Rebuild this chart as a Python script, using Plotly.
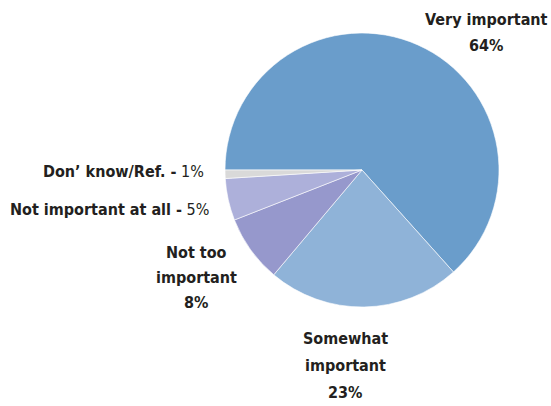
import plotly.graph_objects as go

W, H = 551, 406

categories = ["Very important", "Somewhat important", "Not too important",
              "Not important at all", "Don\u2019 know/Ref."]
values = [64, 23, 8, 5, 1]
colors = ["#6a9dcb", "#8fb3d8", "#9698cc", "#adb0da", "#d9d9d9"]

# pie center and radius in pixels
cx, cy, r = 362, 170, 137

fig = go.Figure(go.Pie(
    labels=categories,
    values=values,
    sort=False,
    direction="clockwise",
    rotation=270,
    marker=dict(colors=colors, line=dict(color="white", width=0.6)),
    textinfo="none",
    hoverinfo="label+percent",
    showlegend=False,
    domain=dict(x=[(cx - r) / W, (cx + r) / W],
                y=[1 - (cy + r) / H, 1 - (cy - r) / H]),
))

FONT = dict(family="DejaVu Sans Condensed, Liberation Sans Narrow, sans-serif",
            size=16, color="#231f20")


def px(x, y):
    return x / W, 1 - y / H


v = dict(zip(categories, values))
# (lines, anchor x, line center ys, xanchor)
labels = [
    (["<b>Very important</b>", f"<b>{v['Very important']}%</b>"],
     486, [19, 46], "center"),
    (["<b>Somewhat</b>", "<b>important</b>", f"<b>{v['Somewhat important']}%</b>"],
     345, [338, 365, 392], "center"),
    (["<b>Not too</b>", "<b>important</b>", f"<b>{v['Not too important']}%</b>"],
     196, [253, 277, 302], "center"),
    ([f"<b>Not important at all -</b> {v['Not important at all']}%"],
     211, [209], "right"),
    ([f"<b>Don\u2019 know/Ref. -</b> {v['Don\u2019 know/Ref.']}%"],
     206, [172], "right"),
]
for lines, x, ys, xa in labels:
    for text, y in zip(lines, ys):
        ax, ay = px(x, y)
        fig.add_annotation(text=text, x=ax, y=ay, xref="paper", yref="paper",
                           xanchor=xa, yanchor="middle", align=xa,
                           showarrow=False, font=FONT)

fig.update_layout(width=W, height=H, margin=dict(l=0, r=0, t=0, b=0),
                  paper_bgcolor="white", plot_bgcolor="white")

fig.write_html("out.html")
